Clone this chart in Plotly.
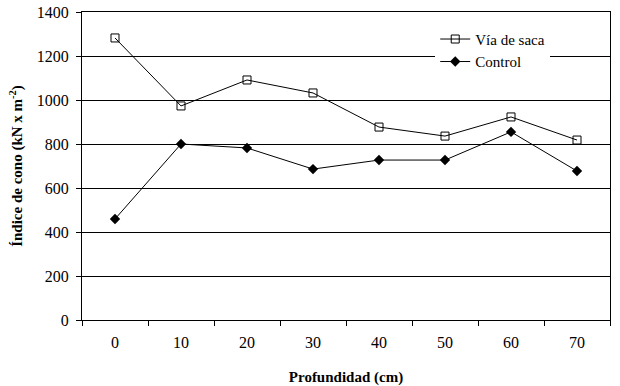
import plotly.graph_objects as go

categories = ["0", "10", "20", "30", "40", "50", "60", "70"]
via_de_saca = [1282, 973, 1091, 1032, 877, 836, 923, 818]
control = [459, 800, 782, 686, 727, 727, 855, 677]
y_ticks = [0, 200, 400, 600, 800, 1000, 1200, 1400]

font = "Times New Roman, Liberation Serif, serif"

fig = go.Figure()
fig.add_trace(go.Scatter(
    x=categories, y=via_de_saca, name="Vía de saca", mode="lines+markers",
    line=dict(color="black", width=1),
    marker=dict(symbol="square-open", size=8, color="black", line=dict(width=1)),
))
fig.add_trace(go.Scatter(
    x=categories, y=control, name="Control", mode="lines+markers",
    line=dict(color="black", width=1),
    marker=dict(symbol="diamond", size=8, color="black"),
))

fig.update_layout(
    width=620, height=386,
    margin=dict(l=82, r=10, t=12, b=66, autoexpand=False),
    paper_bgcolor="white", plot_bgcolor="white",
    font=dict(family=font, size=16, color="black"),
    showlegend=True,
    legend=dict(x=0.669, y=0.965, xanchor="left", yanchor="top",
                bgcolor="white", font=dict(family=font, size=15),
                itemwidth=30, tracegroupgap=0),
)
fig.update_xaxes(
    type="category", range=[-0.5, 7.5], automargin=False,
    tickson="boundaries", ticks="outside", ticklen=5, tickcolor="black",
    ticklabelstandoff=8,
    showgrid=False, showline=True, linecolor="black", linewidth=1, mirror=True,
    tickfont=dict(family=font, size=16),
    title=dict(text="<b>Profundidad (cm)</b>", font=dict(family=font, size=15), standoff=24),
)
fig.update_yaxes(
    range=[0, 1400], tickvals=y_ticks, automargin=False,
    ticks="outside", ticklen=5, tickcolor="black",
    ticklabelstandoff=4,
    showgrid=True, gridcolor="black", gridwidth=1,
    showline=True, linecolor="black", linewidth=1, mirror=True,
    zeroline=False,
    tickfont=dict(family=font, size=16),
    title=dict(text="<b>Índice de cono (kN x m<sup>-2</sup>)</b>", font=dict(family=font, size=15), standoff=10),
)

fig.write_html(
    "out.html",
    config={"responsive": False, "displayModeBar": False},
    post_script="document.body.style.margin='0';document.body.style.padding='0';",
)
